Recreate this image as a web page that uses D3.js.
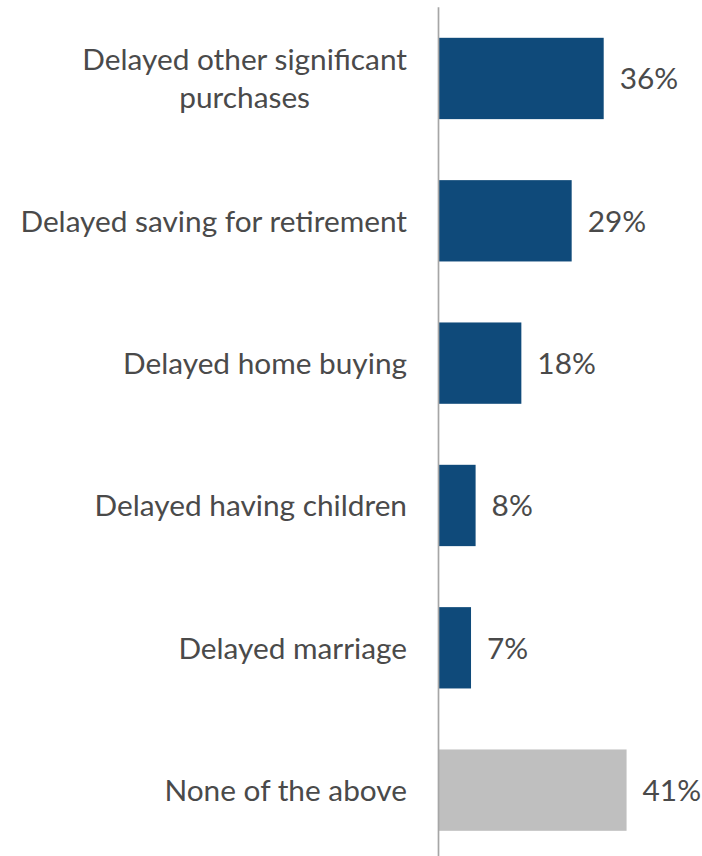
<!DOCTYPE html>
<html><head><meta charset="utf-8">
<script src="https://cdn.jsdelivr.net/npm/d3@7"></script>
<style>
html,body{margin:0;padding:0;background:#fff;}
svg{display:block;}
text{font-family:Lato, "Noto Sans", sans-serif;fill:#4a4a4a;}
</style></head>
<body>
<svg id="chart" width="702" height="856"></svg>
<script>
const categories = ["Delayed other significant purchases","Delayed saving for retirement","Delayed home buying","Delayed having children","Delayed marriage","None of the above"];
const values = [36, 29, 18, 8, 7, 41];
const barColors = ["#0f4a7a","#0f4a7a","#0f4a7a","#0f4a7a","#0f4a7a","#bfbfbf"];

const W = 702, H = 856;
const axisX = 438.5;
const fontSize = 29.8;
const svg = d3.select("#chart");

const y = d3.scaleBand().domain(categories).range([7.3, 861.3]).paddingInner(0.4286).paddingOuter(0.2143);
const x = d3.scaleLinear().domain([0, 100]).range([axisX + 0.5, axisX + 0.5 + 457.5]);

// bars
svg.selectAll("rect.bar").data(categories).join("rect")
  .attr("class","bar")
  .attr("x", x(0))
  .attr("y", d => y(d))
  .attr("width", (d,i) => x(values[i]) - x(0))
  .attr("height", y.bandwidth())
  .attr("fill", (d,i) => barColors[i]);

// axis line
svg.append("line")
  .attr("x1", axisX).attr("x2", axisX)
  .attr("y1", y.range()[0]).attr("y2", H)
  .attr("stroke", "#a6a6a6").attr("stroke-width", 1.7);

// value labels
svg.selectAll("text.val").data(categories).join("text")
  .attr("class","val")
  .attr("x", (d,i) => x(values[i]) + 16)
  .attr("y", d => y(d) + y.bandwidth()/2)
  .attr("dy", "0.36em")
  .attr("font-size", fontSize)
  .text((d,i) => values[i] + "%");

// category labels with wrapping
const maxW = 405, labelRight = 407, lineH = 38.5;
categories.forEach(cat => {
  const t = svg.append("text").attr("font-size", fontSize).attr("class","cat");
  const words = cat.split(" ");
  const lines = [];
  let cur = [];
  const probe = svg.append("text").attr("font-size", fontSize);
  words.forEach(w => {
    const test = cur.concat([w]).join(" ");
    probe.text(test);
    if (probe.node().getComputedTextLength() > maxW && cur.length) {
      lines.push(cur.join(" ")); cur = [w];
    } else cur.push(w);
  });
  lines.push(cur.join(" "));
  let widest = 0;
  lines.forEach(l => { probe.text(l); widest = Math.max(widest, probe.node().getComputedTextLength()); });
  probe.remove();
  const cx = labelRight - widest/2;
  const cy = y(cat) + y.bandwidth()/2;
  const n = lines.length;
  lines.forEach((l, k) => {
    t.append("tspan")
      .attr("x", cx)
      .attr("y", cy + (k - (n-1)/2) * lineH)
      .attr("dy", "0.36em")
      .attr("text-anchor", "middle")
      .text(l);
  });
});
</script>
</body></html>
